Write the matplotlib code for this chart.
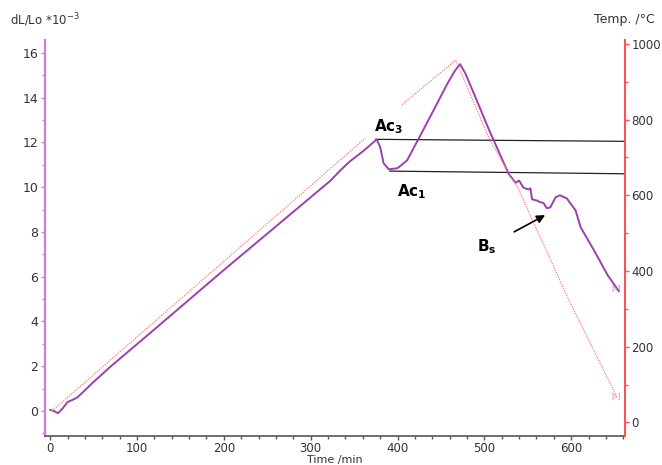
import matplotlib
matplotlib.use("Agg")
import matplotlib.pyplot as plt
from matplotlib.ticker import MultipleLocator
import numpy as np

# dilatometer curve (dL/Lo *10^-3) vs time
time_dl = [0, 4, 9, 14, 20, 26, 31, 38, 50, 70, 115, 200, 260, 323, 334, 345, 360,
           372, 376, 380, 384, 390, 400, 411, 422, 441, 457, 466, 472, 478, 490,
           505, 528, 536, 540, 545, 551, 553, 555, 561, 564, 568, 572, 576, 582,
           587, 595, 605, 611, 626, 642, 655]
dl = [0.05, 0.0, -0.1, 0.1, 0.4, 0.5, 0.6, 0.85, 1.3, 2.0, 3.48, 6.3, 8.25, 10.3,
      10.75, 11.15, 11.6, 12.0, 12.14, 11.8, 11.07, 10.8, 10.85, 11.2, 12.0,
      13.4, 14.6, 15.2, 15.5, 15.1, 14.0, 12.6, 10.6, 10.2, 10.3, 9.98, 9.9,
      9.95, 9.46, 9.4, 9.33, 9.3, 9.06, 9.1, 9.55, 9.64, 9.5, 8.97, 8.2, 7.2,
      6.07, 5.35]

# programmed temperature (°C) vs time, gap where it is not drawn
time_temp = [2, 363, 363.5, 405, 467, 507, 538, 597, 651]
temp = [30, 751, np.nan, 839, 957, 742, 622, 325, 75]

# construction lines for Ac3 and Ac1 (left axis units)
ac3_t = [375, 662]
ac3_dl = [12.14, 12.05]
ac1_t = [391, 662]
ac1_dl = [10.72, 10.6]

purple = "#9c3fb0"
purple_ax = "#cc7fcc"
red_ax = "#ff4d4d"
grey = "#333333"

fig = plt.figure(figsize=(6.62, 4.65), dpi=100)
ax = fig.add_axes([45 / 662, 1 - 436 / 465, 580 / 662, 396 / 465])
ax2 = ax.twinx()

ax.plot(time_dl, dl, color=purple, lw=1.4, zorder=3)
ax.plot(ac3_t, ac3_dl, color="#222222", lw=0.9)
ax.plot(ac1_t, ac1_dl, color="#222222", lw=0.9)
ax2.plot(time_temp, temp, color="#ff7a7a", lw=0.9, ls=(0, (1, 1)))

ax.set_xlim(-6, 662)
ax.set_ylim(-1.12, 16.58)
ax2.set_ylim(-36, 1010)

ax.xaxis.set_major_locator(MultipleLocator(100))
ax.xaxis.set_minor_locator(MultipleLocator(20))
ax.yaxis.set_major_locator(MultipleLocator(2))
ax.yaxis.set_minor_locator(MultipleLocator(1))
ax2.yaxis.set_major_locator(MultipleLocator(200))
ax2.yaxis.set_minor_locator(MultipleLocator(100))

for a in (ax, ax2):
    a.spines["top"].set_visible(False)
ax.spines["right"].set_visible(False)
ax2.spines["left"].set_visible(False)
ax2.spines["bottom"].set_visible(False)
ax.spines["left"].set_color(purple_ax)
ax.spines["left"].set_linewidth(1.6)
ax.spines["bottom"].set_color("#555555")
ax.spines["bottom"].set_linewidth(1.2)
ax2.spines["right"].set_color(red_ax)
ax2.spines["right"].set_linewidth(1.4)

ax.tick_params(axis="y", which="both", colors=purple_ax, labelcolor=grey,
               labelsize=9, direction="out", pad=2)
ax.tick_params(axis="y", which="major", length=3, width=1)
ax.tick_params(axis="y", which="minor", length=2, width=1)
ax.tick_params(axis="x", which="both", colors="#555555", labelcolor=grey,
               labelsize=8.5, direction="out", pad=1)
ax.tick_params(axis="x", which="major", length=3, width=1)
ax.tick_params(axis="x", which="minor", length=2, width=1)
ax2.tick_params(axis="y", which="both", colors=red_ax, labelcolor=grey,
                labelsize=8.5, direction="out", pad=1.5)
ax2.tick_params(axis="y", which="major", length=3, width=1)
ax2.tick_params(axis="y", which="minor", length=2, width=1)

# axis titles
fig.text(10 / 662, 1 - 20 / 465, "dL/Lo *10$^{-3}$", fontsize=8.5, color=grey,
         ha="left", va="center")
fig.text(655 / 662, 1 - 20 / 465, "Temp. /°C", fontsize=9, color=grey,
         ha="right", va="center")
fig.text(335 / 662, 1 - 459.5 / 465, "Time /min", fontsize=8, color=grey,
         ha="center", va="center")

# phase labels
ax.text(390, 12.7, "Ac$_\\mathbf{3}$", fontsize=11, fontweight="bold",
        ha="center", va="center")
ax.text(417, 9.8, "Ac$_\\mathbf{1}$", fontsize=11, fontweight="bold",
        ha="center", va="center")
ax.annotate("B$_\\mathbf{s}$", xy=(570, 8.75), xytext=(503, 7.35),
            fontsize=11, fontweight="bold", ha="center", va="center",
            arrowprops=dict(arrowstyle="-|>", color="black", lw=1.2,
                            shrinkA=12, shrinkB=0, mutation_scale=12))

ax.text(652, 5.5, "[s]", fontsize=5, color="#b070c0", ha="center", va="center")
ax2.text(651, 70, "[s]", fontsize=5, color="#ff7070", ha="center", va="center")

fig.savefig("out.png", dpi=100)
